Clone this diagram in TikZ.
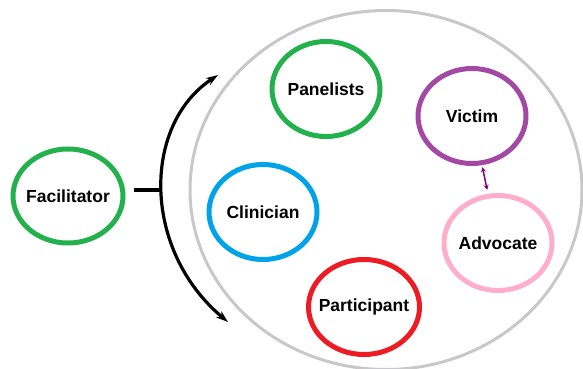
\documentclass[tikz,border=0pt]{standalone}
\usepackage{fontspec}
\setmainfont{Liberation Sans}
\usetikzlibrary{arrows.meta,shapes.geometric}
\definecolor{cgreen}{HTML}{22B14C}
\definecolor{cpurple}{HTML}{A349A4}
\definecolor{cblue}{HTML}{00A2E8}
\definecolor{cpink}{HTML}{FFAEC9}
\definecolor{cred}{HTML}{ED1C24}
\definecolor{cgray}{HTML}{C8C8C8}
\definecolor{darrow}{HTML}{800080}
\begin{document}
\begin{tikzpicture}[x=1pt,y=-1pt,
  role/.style={draw,ellipse,line width=5pt,minimum width=108pt,minimum height=95pt,inner xsep=-14pt,inner ysep=0pt,
    font=\fontsize{17.5}{19}\selectfont\bfseries},
]
\useasboundingbox (0,0) rectangle (583,369);
\node[draw=cgray,line width=3pt,ellipse,minimum width=392pt,minimum height=359pt] (group) at (386,190) {};
\node[role,draw=cgreen,minimum width=110pt,minimum height=94pt] (fac) at (68,196) {Facilitator};
\node[role,draw=cgreen] (pan) at (326,89) {Panelists};
\node[role,draw=cpurple] (vic) at (472,116) {Victim};
\node[role,draw=cblue] (cli) at (263,212) {Clinician};
\node[role,draw=cpink] (adv) at (498,243) {Advocate};
\node[role,draw=cred,minimum width=111pt] (par) at (364,307) {Participant};
\coordinate (s0) at (134,190);
\coordinate (s1) at (162,190);
\coordinate (a0) at (218,75);
\coordinate (a1) at (228,322);
\draw[line width=3.2pt] (s0) -- (s1);
\draw[line width=3.2pt,{Stealth[length=12pt,width=8pt]}-{Stealth[length=12pt,width=8pt]}]
  (a0) .. controls (142,125) and (142,250) .. (a1);
\draw[darrow,line width=1.5pt,shorten <=2pt,shorten >=4pt,{Stealth[length=5pt,width=5pt]}-{Stealth[length=5pt,width=5pt]}]
  (vic) -- (adv);
\end{tikzpicture}
\end{document}
